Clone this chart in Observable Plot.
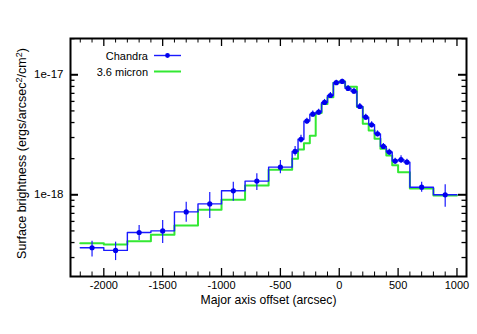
<!DOCTYPE html>
<html><head><meta charset="utf-8">
<script src="https://cdn.jsdelivr.net/npm/d3@7"></script>
<script src="https://cdn.jsdelivr.net/npm/@observablehq/plot@0.6"></script>
<style>
body{margin:0;background:#fff;}
#wrap{position:relative;width:477px;height:334px;}
#wrap svg{font-family:"Liberation Sans",Arial,Helvetica,sans-serif;}
#legend{position:absolute;left:0;top:0;pointer-events:none;}
</style></head><body><div id="wrap"></div>
<script>
// Bin edges (arcsec)
const edges = [-2200,-2000,-1800,-1600,-1400,-1200,-1000,-800,-600,-400,-350,-300,-250,-200,-150,-100,-50,0,50,100,150,200,250,300,350,400,450,500,550,600,800,1000];
// Chandra surface brightness per bin (units of 1e-18)
const chandra = [0.362,0.344,0.485,0.50,0.72,0.84,1.08,1.30,1.70,2.30,2.90,4.11,4.70,4.88,5.88,6.72,8.6,8.8,7.70,7.30,5.44,4.43,3.83,3.22,2.53,2.27,1.91,1.96,1.87,1.157,1.00];
const chandraLo = [0.303,0.283,0.416,0.393,0.591,0.634,0.885,1.086,1.50,2.10,2.70,3.88,4.44,4.61,5.55,6.35,8.2,8.4,7.27,6.89,5.14,4.18,3.62,3.04,2.39,2.14,1.80,1.82,1.77,1.05,0.788];
const chandraHi = [0.411,0.403,0.555,0.61,0.868,1.045,1.27,1.50,1.93,2.52,3.13,4.35,4.98,5.17,6.23,7.12,9.0,9.2,8.16,7.73,5.76,4.69,4.06,3.41,2.68,2.40,2.02,2.11,1.98,1.27,1.21];
// 3.6 micron profile per bin (units of 1e-18)
const micron = [0.395,0.385,0.41,0.464,0.555,0.75,0.91,1.195,1.62,2.0,2.38,2.69,3.10,4.8,5.7,6.5,8.6,8.8,7.95,7.95,5.4,3.9,3.43,2.93,2.42,2.13,1.76,1.54,1.54,1.13,0.987];

const xTicks = [-2000,-1500,-1000,-500,0,500,1000];
const xMinor = [-2200,-2100,-1900,-1800,-1700,-1600,-1400,-1300,-1200,-1100,-900,-800,-700,-600,-400,-300,-200,-100,100,200,300,400,600,700,800,900];
const yTicks = [1e-17, 1e-18];
const yTickLabels = ["1e-17", "1e-18"];
const yMinorMant = [2,3,4,5,6,7,8,9];
const yDecades = [1e-19, 1e-18, 1e-17];
const xLabel = "Major axis offset (arcsec)";
const yLabelParts = [["Surface brightness (ergs/arcsec", false], ["2", true], ["/cm", false], ["2", true], [")", false]];

const unit = 1e-18;
const blue = "#1a1aff", green = "#33e833";

function stepPts(vals) {
  const out = [];
  vals.forEach((v, i) => { out.push({x: edges[i], y: v * unit}); out.push({x: edges[i + 1], y: v * unit}); });
  return out;
}
const pts = chandra.map((v, i) => ({
  x: (edges[i] + edges[i + 1]) / 2, y: v * unit, lo: chandraLo[i] * unit, hi: chandraHi[i] * unit
}));
const yDomain = [2.085e-19, 2.006e-17];
const yMinor = yDecades.flatMap(d => yMinorMant.map(m => m * d)).filter(v => v > yDomain[0] && v < yDomain[1]);

const W = 477, H = 334, mL = 70, mR = 11, mT = 38, mB = 58;
const innerH = H - mT - mB, innerW = W - mL - mR;
const majLen = 8, minLen = 4.5;

const chart = Plot.plot({
  width: W, height: H,
  marginLeft: mL, marginRight: mR, marginTop: mT, marginBottom: mB,
  style: {fontFamily: '"Liberation Sans", Arial, sans-serif', color: "black", background: "white"},
  x: {domain: [-2283, 1081]},
  y: {type: "log", domain: yDomain},
  marks: [
    Plot.line(stepPts(micron), {x: "x", y: "y", stroke: green, strokeWidth: 2}),
    Plot.line(stepPts(chandra), {x: "x", y: "y", stroke: blue, strokeWidth: 1.4}),
    Plot.ruleX(pts, {x: "x", y1: "lo", y2: "hi", stroke: blue, strokeWidth: 1.2}),
    Plot.dot(pts, {x: "x", y: "y", r: 2.6, fill: "#0000ee", stroke: null}),
    // inward ticks, all four sides
    Plot.tickX(xTicks, {x: d => d, insetTop: innerH - majLen, stroke: "black", strokeWidth: 1.3}),
    Plot.tickX(xTicks, {x: d => d, insetBottom: innerH - majLen, stroke: "black", strokeWidth: 1.3}),
    Plot.tickX(xMinor, {x: d => d, insetTop: innerH - minLen, stroke: "black", strokeWidth: 1}),
    Plot.tickX(xMinor, {x: d => d, insetBottom: innerH - minLen, stroke: "black", strokeWidth: 1}),
    Plot.tickY(yTicks, {y: d => d, insetRight: innerW - majLen, stroke: "black", strokeWidth: 2}),
    Plot.tickY(yTicks, {y: d => d, insetLeft: innerW - majLen, stroke: "black", strokeWidth: 2}),
    Plot.tickY(yMinor, {y: d => d, insetRight: innerW - minLen, stroke: "black", strokeWidth: 1.3}),
    Plot.tickY(yMinor, {y: d => d, insetLeft: innerW - minLen, stroke: "black", strokeWidth: 1.3}),
    Plot.frame({stroke: "black", strokeWidth: 2}),
    Plot.axisX({ticks: xTicks, tickSize: 0, tickPadding: 5, fontSize: 11, tickFormat: d => String(d), label: null}),
    Plot.axisY({ticks: yTicks, tickSize: 0, tickPadding: 7, fontSize: 11.5,
      tickFormat: d => yTickLabels[yTicks.indexOf(d)] ?? "", label: null}),
    Plot.text([xLabel], {text: d => d, frameAnchor: "bottom", dy: 24, lineAnchor: "middle", fontSize: 12.2}),
    Plot.text(["ylabel"], {text: d => d, frameAnchor: "left", dx: -49, dy: -4, rotate: -90, lineAnchor: "middle", textAnchor: "middle", fontSize: 12.5})
  ]
});
const wrap = document.getElementById("wrap");
wrap.appendChild(chart);
// rebuild y label with real superscripts
chart.querySelectorAll("text").forEach(t => {
  if (t.textContent === "ylabel") {
    t.textContent = "";
    t.setAttribute("text-anchor", "middle");
    const ns0 = "http://www.w3.org/2000/svg";
    for (const [s, sup] of yLabelParts) {
      const ts = document.createElementNS(ns0, "tspan");
      ts.textContent = s;
      if (sup) { ts.setAttribute("font-size", "9"); ts.setAttribute("dy", "-4"); }
      else if (s === "/cm" || s === ")") { ts.setAttribute("dy", "4"); }
      t.appendChild(ts);
    }
  }
});

// legend overlay
const ns = "http://www.w3.org/2000/svg";
const leg = document.createElementNS(ns, "svg");
leg.setAttribute("id", "legend"); leg.setAttribute("width", W); leg.setAttribute("height", H);
const entries = [
  {label: "Chandra", color: blue, marker: true, y: 55.5},
  {label: "3.6 micron", color: green, marker: false, y: 71.5}
];
for (const e of entries) {
  const t = document.createElementNS(ns, "text");
  t.setAttribute("x", 148); t.setAttribute("y", e.y); t.setAttribute("text-anchor", "end");
  t.setAttribute("dominant-baseline", "central");
  t.setAttribute("font-family", '"Liberation Sans", Arial, sans-serif'); t.setAttribute("font-size", "11");
  t.textContent = e.label; leg.appendChild(t);
  const l = document.createElementNS(ns, "line");
  l.setAttribute("x1", 154); l.setAttribute("x2", 181); l.setAttribute("y1", e.y); l.setAttribute("y2", e.y);
  l.setAttribute("stroke", e.color); l.setAttribute("stroke-width", e.marker ? 1.4 : 2); leg.appendChild(l);
  if (e.marker) {
    const c = document.createElementNS(ns, "circle");
    c.setAttribute("cx", 167.5); c.setAttribute("cy", e.y); c.setAttribute("r", 2.4); c.setAttribute("fill", "#0000ee");
    leg.appendChild(c);
  }
}
wrap.appendChild(leg);
</script></body></html>
